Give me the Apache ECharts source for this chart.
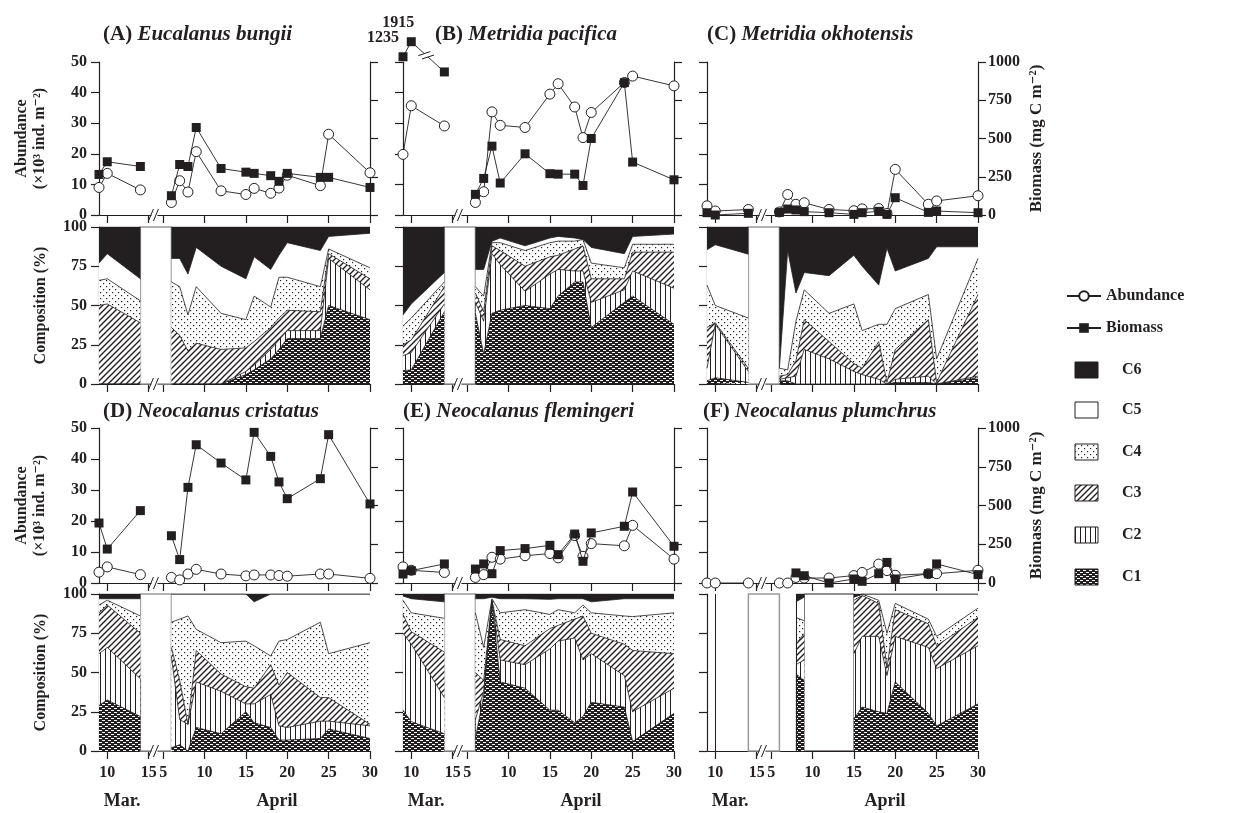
<!DOCTYPE html>
<html>
<head>
<meta charset="utf-8">
<script src="https://cdn.jsdelivr.net/npm/echarts@6.0.0/dist/echarts.min.js"></script>
<style>
html, body { margin: 0; background: #fff; }
#chart { width: 1234px; height: 813px; }
</style>
</head>
<body>
<div id="chart"></div>
<script>
// sampling dates (month/day)
var dates = ['3/9','3/10','3/14','4/6','4/7','4/8','4/9','4/12','4/15','4/16','4/18','4/19','4/20','4/24','4/25','4/30'];
// x axis ticks (axis has a break between Mar 15 and Apr 5)
var tickPos = [1, 6, 7.75, 12.75, 17.75, 22.75, 27.75, 32.75];
var tickLabels = ['10', '15', '5', '10', '15', '20', '25', '30'];

// abundance (x10^3 ind. m-2) and biomass (mg C m-2)
var abundA = [9.0, 13.6, 8.2, 4.1, 11.2, 7.5, 20.7, 7.9, 6.7, 8.7, 7.1, 8.8, 13.0, 9.6, 26.4, 13.8];
var biomA  = [265, 348, 317, 126, 330, 317, 572, 304, 280, 272, 257, 220, 272, 246, 246, 180];
var abundB = [19.8, 35.7, 29.1, 4.1, 7.6, 33.7, 29.3, 28.6, 39.5, 42.9, 35.3, 25.3, 33.5, 43.3, 45.4, 42.2];
var biomB  = [1235, 1915, 935, 135, 239, 450, 209, 400, 270, 267, 267, 193, 500, 865, 346, 230];
var abundC = [3.0, 1.3, 1.8, 1.0, 6.7, 3.5, 4.0, 1.8, 1.4, 2.0, 2.1, 0.5, 14.9, 3.5, 4.6, 6.3];
var biomC  = [15, 0, 11, 17, 39, 33, 22, 15, 4, 15, 24, 4, 113, 17, 26, 15];
var abundD = [3.5, 5.2, 2.7, 1.8, 1.0, 2.9, 4.4, 2.9, 2.3, 2.6, 2.6, 2.4, 2.2, 2.9, 2.9, 1.5];
var biomD  = [387, 219, 467, 305, 151, 617, 892, 774, 665, 972, 817, 652, 544, 673, 957, 510];
var abundE = [5.2, 4.1, 3.4, 1.8, 2.7, 8.3, 7.7, 8.8, 9.5, 8.1, 15.3, 8.6, 12.7, 12.0, 18.6, 7.7];
var biomE  = [58, 80, 123, 90, 123, 60, 209, 222, 243, 183, 316, 140, 323, 366, 587, 237];
var abundF = [0, 0, 0, 0, 0, 1.8, 1.6, 1.6, 2.4, 3.4, 6.1, 4.0, 2.5, 3.0, 3.0, 4.1];
var biomF  = [null, null, null, null, null, 65, 47, 0, 26, 11, 60, 133, 26, 60, 123, 54];

// composition: cumulative % from the bottom (top of C1, C2, C3, C4, C5; C6 fills to 100)
var compA_C1 = [0, 0, 0, 0, 0, 0, 0, 0, 6, 9, 16, 22, 29, 29, 50, 41];
var compA_C2 = [0, 0, 0, 0, 0, 0, 0, 0, 8, 12, 22, 28, 34, 34, 80, 60];
var compA_C3 = [50, 51, 39, 36, 31, 21, 26, 22, 23, 27, 36, 42, 47, 46, 83, 67];
var compA_C4 = [66, 67, 53, 65, 62, 44, 62, 45, 41, 56, 49, 68, 68, 62, 86, 74];
var compA_C5 = [77, 83, 67, 80, 80, 70, 87, 75, 67, 81, 73, 82, 90, 85, 94, 96];

var compB_C1 = [8.5, 9, 46, 45, 19, 45, 47, 50, 48, 56, 65, 65, 36, 52, 56, 38];
var compB_C2 = [18, 20, 51, 52, 40, 83, 76, 59, 70, 73, 72, 72, 52, 60, 72, 61];
var compB_C3 = [25, 28, 62, 58, 46, 88, 85, 75, 81, 82, 86, 88, 67, 67, 84, 84];
var compB_C4 = [37, 42, 65, 62, 56, 90, 90, 85, 90, 91, 91, 92, 77, 74, 89, 89];
var compB_C5 = [44, 51, 71, 73, 73, 91, 93, 88, 93, 94, 93, 92, 87, 83, 94, 95.5];

var compC_C1 = [2, 4, 1, 2, 2, 0, 0, 0, 0, 0, 0, 0, 1, 1, 0, 4];
var compC_C2 = [10, 38, 8, 3, 4, 5, 22, 16, 8, 6, 3, 0, 3, 5, 0, 5];
var compC_C3 = [36, 39, 10, 5, 6, 15, 41, 27, 13, 10, 27, 1, 22, 41, 1, 57];
var compC_C4 = [63, 50, 42, 10, 9, 40, 60, 45, 51, 34, 38, 38, 48, 57, 16, 80];
var compC_C5 = [85.5, 88.7, 82.7, 10, 85, 58, 71, 69, 82, 75, 63, 86.5, 72, 80, 87.4, 87.4];

var compD_C1 = [29, 32.5, 22, 2, 4, 0, 15, 11, 25, 18, 15, 7, 7, 8, 14, 8];
var compD_C2 = [62, 66, 46, 60, 20, 17, 44, 38, 30, 30, 36, 16, 15, 19, 19, 16];
var compD_C3 = [88, 93, 75, 66, 45, 17, 64, 49, 41, 40, 55, 42, 50, 34, 34, 17];
var compD_C4 = [93, 96, 86, 82, 84, 86, 77.5, 69, 70, 67, 60.5, 70, 71, 82, 62, 69];
var compD_C5 = [97, 97, 97, 100, 100, 100, 100, 100, 100, 95, 100, 100, 100, 100, 100, 100];

var compE_C1 = [26, 18.7, 11, 8, 35, 95, 44, 40, 26, 26, 18, 22, 31, 28, 6, 24];
var compE_C2 = [75, 68, 34, 20, 38, 96, 58, 55, 65, 70, 72, 58, 62, 48, 25, 40];
var compE_C3 = [87, 76, 63, 50, 45, 96, 71, 67, 78, 80, 84, 86, 75, 68, 64, 62];
var compE_C4 = [96, 88, 84.5, 88, 66, 97, 88, 90, 87, 90, 88, 93, 88, 86, 85.6, 88];
var compE_C5 = [98.7, 97, 95, 97, 97, 98, 97, 97, 96.6, 97, 97, 97, 95, 97, 97, 97];

var n = null;
var compF_C1 = [n, n, n, n, n, 49, 45, n, 20.5, 28, 25, 24, 44, 24, 16, 30];
var compF_C2 = [n, n, n, n, n, 55, 58, n, 62, 73, 73, 48, 73, 66, 52.5, 67];
var compF_C3 = [n, n, n, n, n, 68, 75, n, 96, 99, 94, 53, 90, 81, 67, 85];
var compF_C4 = [n, n, n, n, n, 85, 83, n, 98, 100, 96, 75, 94, 84, 73, 91];
var compF_C5 = [n, n, n, n, n, 95, 98, n, 98, 100, 100, 100, 100, 100, 100, 100];

var SERIF = '"Liberation Serif", "DejaVu Serif", serif';
var INK = '#231f20';

// 填充图案
function pattern(w, h, draw) {
	var c = document.createElement('canvas');
	c.width = w; c.height = h;
	var g = c.getContext('2d');
	g.fillStyle = '#fff'; g.fillRect(0, 0, w, h);
	g.fillStyle = INK; g.strokeStyle = INK;
	draw(g);
	return { image: c, repeat: 'repeat' };
}
var fillC6 = INK;
var fillC5 = '#fff';
var fillC4 = pattern(6, 6, function(g) { g.fillRect(1, 1, 1.2, 1.2); g.fillRect(4, 4, 1.2, 1.2); });
var fillC3 = pattern(6, 6, function(g) {
	g.lineWidth = 1.4; g.beginPath();
	g.moveTo(-1, 7); g.lineTo(7, -1);
	g.moveTo(-4, 4); g.lineTo(4, -4);
	g.moveTo(2, 10); g.lineTo(10, 2);
	g.stroke();
});
var fillC2 = pattern(5, 4, function(g) { g.fillRect(0, 0, 1, 4); });
var fillC1 = pattern(6, 4, function(g) {
	g.fillRect(0, 0, 6, 4);
	g.fillStyle = '#fff';
	g.fillRect(0, 0, 3, 1); g.fillRect(3, 2, 3, 1);
});

// x position of a date on the broken axis
function xpos(d) {
	var p = d.split('/');
	return +p[0] === 3 ? +p[1] - 9 : +p[1] + 2.75;
}
var xs = dates.map(xpos);
var BREAK_X = 6.7;
function toData(vals, f) {
	var out = [];
	for (var i = 0; i < xs.length; i++) {
		if (i === 3) out.push([BREAK_X, '-']);// March / April 断开
		var v = vals[i];
		out.push([xs[i], v == null ? '-' : (f ? f(v) : v)]);
	}
	return out;
}
// values above 1000 are drawn compressed (axis break in panel B)
function squeeze(v) { return v > 1000 ? 1000 + (v - 1000) * 0.145 : v; }

var tags = ['(A) ', '(B) ', '(C) ', '(D) ', '(E) ', '(F) '];
var species = ['Eucalanus bungii', 'Metridia pacifica', 'Metridia okhotensis',
	'Neocalanus cristatus', 'Neocalanus flemingeri', 'Neocalanus plumchrus'];
var abund = [abundA, abundB, abundC, abundD, abundE, abundF];
var biom = [biomA, biomB, biomC, biomD, biomE, biomF];
var comps = [
	[compA_C1, compA_C2, compA_C3, compA_C4, compA_C5],
	[compB_C1, compB_C2, compB_C3, compB_C4, compB_C5],
	[compC_C1, compC_C2, compC_C3, compC_C4, compC_C5],
	[compD_C1, compD_C2, compD_C3, compD_C4, compD_C5],
	[compE_C1, compE_C2, compE_C3, compE_C4, compE_C5],
	[compF_C1, compF_C2, compF_C3, compF_C4, compF_C5]
];

var colLeft = [99, 403, 707], colW = 271;
var upTop = [62, 428], upH = [153, 155];
var compTop = [227, 594], compH = 157;
var titleLeft = [103, 435, 707, 103, 403, 703];
var titleTop = [24, 24, 24, 401, 401, 401];

var lab = { fontFamily: SERIF, fontWeight: 'bold', fontSize: 16, color: INK };
var axLine = { show: true, lineStyle: { color: INK, width: 1.2 } };
var axTick = { show: true, length: 8, lineStyle: { color: INK, width: 1.2 } };

function tickText(v) {
	for (var i = 0; i < tickPos.length; i++) if (Math.abs(tickPos[i] - v) < 1e-6) return tickLabels[i];
	return '';
}

var grids = [], xAxes = [], yAxes = [], series = [], titles = [];

for (var p = 0; p < 6; p++) {
	var col = p % 3, row = Math.floor(p / 3);
	var gUp = grids.length;
	grids.push({ left: colLeft[col], top: upTop[row], width: colW, height: upH[row], containLabel: false, outerBoundsMode: 'none' });
	var gCo = grids.length;
	grids.push({ left: colLeft[col], top: compTop[row], width: colW, height: compH, containLabel: false, outerBoundsMode: 'none' });

	[gUp, gCo].forEach(function(gi) {
		var showLab = (gi === gCo && row === 1);
		xAxes.push({
			type: 'value', gridIndex: gi, min: 0, max: 32.75,
			axisLine: axLine,
			axisTick: Object.assign({ customValues: tickPos }, axTick),
			axisLabel: Object.assign({ show: showLab, customValues: tickPos, margin: 14, formatter: tickText }, lab),
			splitLine: { show: false }
		});
	});

	var yL = yAxes.length;
	yAxes.push({
		type: 'value', gridIndex: gUp, position: 'left', min: 0, max: 50, interval: 10,
		axisLine: axLine, axisTick: axTick,
		axisLabel: Object.assign({ show: col === 0, margin: 12 }, lab),
		splitLine: { show: false },
		name: col === 0 ? 'Abundance\n(×10³ ind. m⁻²)' : '',
		nameLocation: 'middle', nameRotate: 90, nameGap: 50,
		nameTextStyle: { fontFamily: SERIF, fontWeight: 'bold', fontSize: 16, lineHeight: 18, color: INK }
	});
	var yR = yAxes.length;
	yAxes.push({
		type: 'value', gridIndex: gUp, position: 'right', min: 0, max: 1000, interval: 250,
		axisLine: axLine, axisTick: axTick,
		axisLabel: Object.assign({ show: col === 2, margin: 10, formatter: function(v) { return String(v); } }, lab),
		splitLine: { show: false },
		name: col === 2 ? 'Biomass (mg C m⁻²)' : '',
		nameLocation: 'middle', nameRotate: 90, nameGap: 50,
		nameTextStyle: { fontFamily: SERIF, fontWeight: 'bold', fontSize: 17, color: INK }
	});
	var yC = yAxes.length;
	yAxes.push({
		type: 'value', gridIndex: gCo, position: 'left', min: 0, max: 100, interval: 25,
		axisLine: axLine, axisTick: axTick,
		axisLabel: Object.assign({ show: col === 0, margin: 12 }, lab),
		splitLine: { show: false },
		name: col === 0 ? 'Composition (%)' : '',
		nameLocation: 'middle', nameRotate: 90, nameGap: 50,
		nameTextStyle: { fontFamily: SERIF, fontWeight: 'bold', fontSize: 16, color: INK }
	});

	titles.push({
		text: '{a|' + tags[p] + '}{b|' + species[p] + '}',
		left: titleLeft[p], top: titleTop[p], padding: 0,
		textStyle: { rich: {
			a: { fontFamily: SERIF, fontWeight: 'bold', fontSize: 21, color: INK },
			b: { fontFamily: SERIF, fontWeight: 'bold', fontStyle: 'italic', fontSize: 21, color: INK }
		} }
	});

	// 丰度 / 生物量
	series.push({
		type: 'line', name: 'Abundance', xAxisIndex: gUp, yAxisIndex: yL,
		data: toData(abund[p]), symbol: 'circle', symbolSize: 10, showAllSymbol: true,
		itemStyle: { color: '#fff', borderColor: INK, borderWidth: 1 },
		lineStyle: { color: INK, width: 0.9 }, z: 3
	});
	series.push({
		type: 'line', name: 'Biomass', xAxisIndex: gUp, yAxisIndex: yR,
		data: toData(biom[p], p === 1 ? squeeze : null), symbol: 'rect', symbolSize: 9, showAllSymbol: true,
		itemStyle: { color: INK }, lineStyle: { color: INK, width: 0.9 },
		clip: p !== 1, z: 4
	});

	// 组成 (C6 on the bottom of the drawing order, C1 last)
	var c = comps[p];
	var c6 = c[4].map(function(v) { return v == null ? null : 100; });
	var layers = [c6, c[4], c[3], c[2], c[1], c[0]];
	var fills = [fillC6, fillC5, fillC4, fillC3, fillC2, fillC1];
	for (var k = 0; k < 6; k++) {
		var s = {
			type: 'line', xAxisIndex: gCo, yAxisIndex: yC, data: toData(layers[k]),
			symbol: 'none', silent: true,
			lineStyle: { color: INK, width: 0.8 },
			areaStyle: { color: fills[k], opacity: 1 }, z: 2
		};
		if (k === 5) {
			var boxes = [[{ xAxis: xs[2], yAxis: 0 }, { xAxis: xs[3], yAxis: 100 }]];
			s.markArea = { silent: true, itemStyle: { color: '#fff', borderColor: '#9a9a9a', borderWidth: 1.5 }, data: boxes };
			if (p === 5) {
				s.markArea.data.push([{ xAxis: xs[6], yAxis: 0, itemStyle: { borderColor: INK, borderWidth: 1 } },
					{ xAxis: xs[8], yAxis: 100 }]);
				s.markLine = { silent: true, symbol: 'none', label: { show: false },
					lineStyle: { color: INK, type: 'solid', width: 1 },
					data: [{ xAxis: xs[1] }, { xAxis: xs[5] }] };
			}
		}
		series.push(s);
	}
}

var dom = document.getElementById('chart');
var chart = echarts.init(dom, null, { renderer: 'canvas' });
chart.setOption({
	backgroundColor: '#fff',
	animation: false,
	title: titles,
	legend: {
		data: ['Abundance', 'Biomass'], orient: 'vertical', left: 1061, top: 283,
		itemWidth: 34, itemHeight: 12, itemGap: 16, selectedMode: false,
		textStyle: { fontFamily: SERIF, fontWeight: 'bold', fontSize: 16, color: INK }
	},
	grid: grids,
	xAxis: xAxes,
	yAxis: yAxes,
	series: series
});

// 附加图形：断轴符号、月份、图例方块
var gfx = [];
function slashes(cx, cy) {
	gfx.push({ type: 'rect', shape: { x: cx - 3, y: cy - 2, width: 6, height: 4 }, style: { fill: '#fff' }, z: 100 });
	gfx.push({ type: 'line', shape: { x1: cx - 6, y1: cy + 6, x2: cx - 1, y2: cy - 6 }, style: { stroke: INK, lineWidth: 1 }, z: 101 });
	gfx.push({ type: 'line', shape: { x1: cx - 1, y1: cy + 6, x2: cx + 4, y2: cy - 6 }, style: { stroke: INK, lineWidth: 1 }, z: 101 });
}
for (var gi = 0; gi < grids.length; gi++) {
	var pt = chart.convertToPixel({ gridIndex: gi }, [BREAK_X, 0]);
	slashes(pt[0], pt[1]);
	if (gi % 2 === 1 && gi >= 6) {
		var m = chart.convertToPixel({ gridIndex: gi }, [2.8, 0]);
		var a = chart.convertToPixel({ gridIndex: gi }, [21.5, 0]);
		gfx.push({ type: 'text', style: { text: 'Mar.', x: m[0], y: m[1] + 50, align: 'center', verticalAlign: 'middle', font: 'bold 18px ' + SERIF, fill: INK } });
		gfx.push({ type: 'text', style: { text: 'April', x: a[0], y: a[1] + 50, align: 'center', verticalAlign: 'middle', font: 'bold 18px ' + SERIF, fill: INK } });
	}
}

// panel B: values beyond the top of the biomass axis
var p9 = chart.convertToPixel({ xAxisIndex: 2, yAxisIndex: 4 }, [xs[0], squeeze(biomB[0])]);
var p10 = chart.convertToPixel({ xAxisIndex: 2, yAxisIndex: 4 }, [xs[1], squeeze(biomB[1])]);
var p14 = chart.convertToPixel({ xAxisIndex: 2, yAxisIndex: 4 }, [xs[2], squeeze(biomB[2])]);
gfx.push({ type: 'text', style: { text: String(biomB[1]), x: p10[0] - 13, y: p10[1] - 19, align: 'center', verticalAlign: 'middle', font: 'bold 16px ' + SERIF, fill: INK } });
gfx.push({ type: 'text', style: { text: String(biomB[0]), x: p9[0] - 20, y: p9[1] - 19, align: 'center', verticalAlign: 'middle', font: 'bold 16px ' + SERIF, fill: INK } });
(function() {
	var t = 0.45, mx = p10[0] + (p14[0] - p10[0]) * t, my = p10[1] + (p14[1] - p10[1]) * t;
	var dx = p14[0] - p10[0], dy = p14[1] - p10[1], L = Math.sqrt(dx * dx + dy * dy);
	var ux = dx / L * 2.5, uy = dy / L * 2.5;
	var c1 = [mx - ux, my - uy], c2 = [mx + ux, my + uy];
	gfx.push({ type: 'polygon', shape: { points: [[c1[0] - 6, c1[1] + 2], [c1[0] + 6, c1[1] - 2], [c2[0] + 6, c2[1] - 2], [c2[0] - 6, c2[1] + 2]] }, style: { fill: '#fff' }, z: 100 });
	[c1, c2].forEach(function(cc) {
		gfx.push({ type: 'line', shape: { x1: cc[0] - 6, y1: cc[1] + 2, x2: cc[0] + 6, y2: cc[1] - 2 }, style: { stroke: INK, lineWidth: 1 }, z: 101 });
	});
})();

// composition legend
var legNames = ['C6', 'C5', 'C4', 'C3', 'C2', 'C1'];
var legFills = [fillC6, fillC5, fillC4, fillC3, fillC2, fillC1];
var legY = [370, 410, 452, 493, 535, 577];
for (var i = 0; i < legNames.length; i++) {
	gfx.push({ type: 'rect', shape: { x: 1075, y: legY[i] - 8, width: 23, height: 16 }, style: { fill: legFills[i], stroke: INK, lineWidth: 1 } });
	gfx.push({ type: 'text', style: { text: legNames[i], x: 1122, y: legY[i], verticalAlign: 'middle', font: 'bold 16px ' + SERIF, fill: INK } });
}
chart.setOption({ graphic: gfx });
</script>
</body>
</html>
